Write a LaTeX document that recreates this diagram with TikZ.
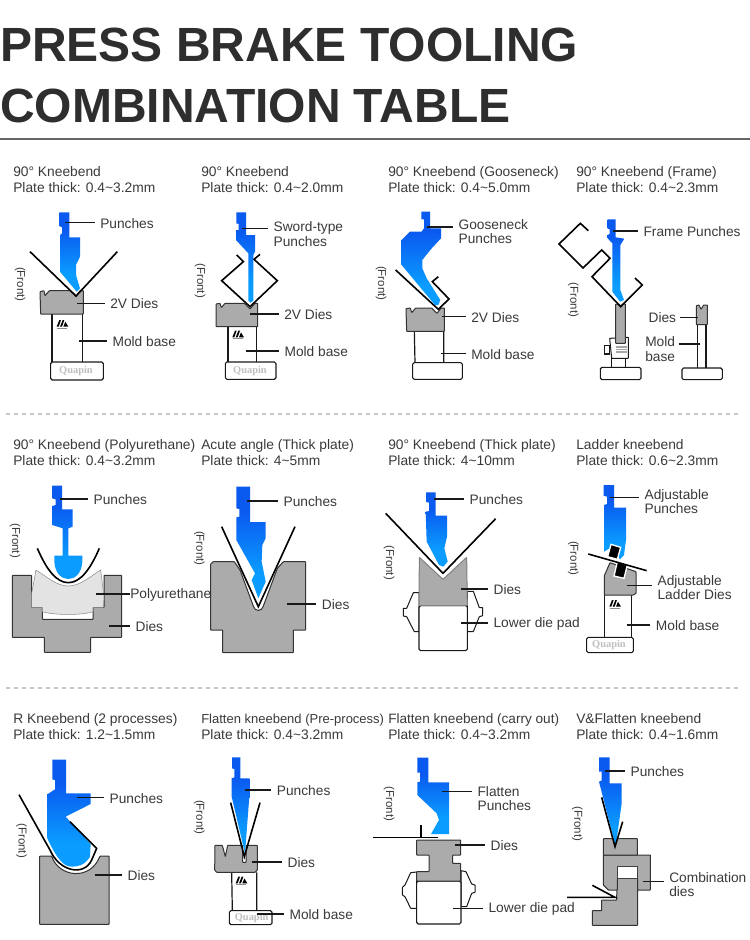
\documentclass[tikz,border=0pt]{standalone}
\usepackage{fontspec}
\setmainfont{Liberation Sans}
\newfontfamily\qfont{Liberation Serif}
\definecolor{ink}{HTML}{3A3A3A}
\definecolor{pd}{HTML}{0A5AF0}
\definecolor{pl}{HTML}{0A9CFF}
\definecolor{dg}{HTML}{ABABAB}
\pgfdeclareverticalshading{punchgrad}{100bp}{color(0bp)=(pl); color(36bp)=(pl); color(64bp)=(pd); color(100bp)=(pd)}
\tikzset{
  punch/.style={shading=punchgrad,draw=none},
  sheet/.style={draw=black,line width=1.2pt,line join=miter,fill=none},
  diebody/.style={fill=dg,draw=black!80,line width=.75pt,rounded corners=.4pt},
  outl/.style={draw=black!90,line width=.85pt,fill=white,rounded corners=1.2pt},
  clamp/.style={draw=black!90,line width=.75pt,fill=white,rounded corners=.3pt},
  wire/.style={draw=black!90,line width=.9pt},
  leader/.style={draw=black!90,line width=.8pt,shorten >=4pt},
  lbl/.style={inner sep=0pt,text=ink,font=\fontsize{10.3}{10.8}\selectfont,align=left,yshift=-.5pt},
  capt/.style={inner sep=0pt,text=ink,font=\fontsize{10.35}{12}\selectfont,anchor=base west},
  frontlbl/.style={inner sep=0pt,text=ink,font=\fontsize{8.6}{10}\selectfont,rotate=-90},
  qtext/.style={inner sep=0pt,text=black!25,font=\qfont\bfseries\fontsize{7.8}{9}\selectfont},
  panel/.style={x=.25pt,y=-.25pt},
  ttl/.style={inner sep=0pt,anchor=base west,text=black!82,font=\bfseries\fontsize{36}{40}\selectfont},
  dashline/.style={draw=black!22,line width=1.5pt,dash pattern=on 3pt off 3pt}
}
\newcommand\lbl[6]{\coordinate (#1-a) at (#2,#3);\node[lbl,anchor=west] (#1) at (#4,#5) {#6};\draw[leader] (#1-a) -- (#1.west |- #1-a);}
\newcommand\lblr[6]{\coordinate (#1-a) at (#2,#3);\node[lbl,anchor=west] (#1) at (#4,#5) {#6};\draw[leader,shorten >=3pt] (#1-a) -- (#1.east |- #1-a);}
\newcommand\capt[5]{\node[capt] (#1-1) at (#2,#3) {#4};\node[capt] (#1-2) at (#2,#3+16) {#5};}
\newcommand\qlogo[2]{\begin{scope}[shift={(#1,#2)}]
 \fill[black] (0,20)--(8,0)--(13,0)--(6,20)--cycle (10,20)--(18,0)--(23,0)--(16,20)--cycle (20,20)--(26,5)--(35,20)--cycle;
 \fill[black!45] (1,23) rectangle (32,25);
\end{scope}}
\newcommand\tld{\textasciitilde}
\begin{document}
\begin{tikzpicture}[x=.75pt,y=-.75pt]
\useasboundingbox (0,0) rectangle (750,940);
\fill[white] (0,0) rectangle (750,940);
% title
\node[ttl] (t1) at (0,61) {PRESS BRAKE TOOLING};
\node[ttl] (t2) at (0,122.5) {COMBINATION TABLE};
\draw[black!60,line width=1.2pt] (0,138.7) -- (750,138.7);
\draw[dashline] (6,413.7) -- (740,413.7);
\draw[dashline] (6,687.5) -- (740,687.5);
% captions
\capt{c1}{13}{176}{90° Kneebend}{Plate thick: 0.4\tld3.2mm}
\capt{c2}{201}{176}{90° Kneebend}{Plate thick: 0.4\tld2.0mm}
\capt{c3}{388}{176}{90° Kneebend (Gooseneck)}{Plate thick: 0.4\tld5.0mm}
\capt{c4}{576}{176}{90° Kneebend (Frame)}{Plate thick: 0.4\tld2.3mm}
\capt{c5}{13}{449}{90° Kneebend (Polyurethane)}{Plate thick: 0.4\tld3.2mm}
\capt{c6}{201}{449}{Acute angle (Thick plate)}{Plate thick: 4\tld5mm}
\capt{c7}{388}{449}{90° Kneebend (Thick plate)}{Plate thick: 4\tld10mm}
\capt{c8}{576}{449}{Ladder kneebend}{Plate thick: 0.6\tld2.3mm}
\capt{c9}{13}{723}{R Kneebend (2 processes)}{Plate thick: 1.2\tld1.5mm}
\capt{c10}{201}{723}{\fontsize{9.75}{12}\selectfont Flatten kneebend (Pre-process)}{Plate thick: 0.4\tld3.2mm}
\capt{c11}{388}{723}{\fontsize{10.2}{12}\selectfont Flatten kneebend (carry out)}{Plate thick: 0.4\tld3.2mm}
\capt{c12}{576}{723}{V\&Flatten kneebend}{Plate thick: 0.4\tld1.6mm}

% ===== PANEL 1
\begin{scope}[shift={(0,150)},panel]
% D1
\draw[wire] (156,492)--(156,636) (247,492)--(247,636);
\path[diebody] (120,425)--(132,422)--(135,437)--(148,422)--(212,422)--(228,440)--(240,422)--(250,422)--(250,492)--(122,492)--cycle;
\path[punch] (178,187)--(208,187)--(208,262)--(240,262)--(240,320)--(228,345)--(228,375)--(240,415)--(230,425)--(180,365)--(180,255)--(186,250)--(186,232)--(178,228)--cycle;
\draw[sheet] (90,305)--(228,438)--(352,305);
\path[outl] (152,636) rectangle (310,690);
\node[qtext] (q1) at (228,662) {Quapin};
\qlogo{170}{510}
\lbl{a1}{195}{218}{300}{218}{Punches}
\lbl{a2}{232}{460}{330}{460}{2V Dies}
\lbl{a3}{238}{573}{337}{573}{Mold base}
\node[frontlbl] (f1) at (60,403) {(Front)};
% D2
\draw[wire] (684,530)--(684,636) (770,530)--(770,636);
\path[diebody] (648,462)--(660,460)--(664,473)--(675,460)--(733,460)--(750,477)--(765,460)--(773,460)--(773,530)--(648,530)--cycle;
\path[punch] (709,187)--(738,187)--(738,255)--(765,255)--(765,305)--(760,315)--(760,452)--(752,458)--(745,452)--(745,310)--(708,270)--(708,240)--(716,240)--(716,222)--(709,220)--cycle;
\draw[sheet] (710,315)--(730,335)--(665,392)--(750,470)--(832,392)--(762,328)--(780,313);
\path[outl] (676,636) rectangle (828,688);
\node[qtext] (q2) at (750,662) {Quapin};
\qlogo{697}{542}
\lbl{a4}{727}{235}{820}{250}{Sword-type\\Punches}
\lbl{a5}{750}{492}{852}{492}{2V Dies}
\lbl{a6}{738}{603}{853}{603}{Mold base}
\node[frontlbl] (f2) at (600,392) {(Front)};
\end{scope}

% ===== PANEL 2
\begin{scope}[shift={(375,150)},panel]
% D3
\draw[wire] (118,544)--(120,638) (206,544)--(206,638);
\path[diebody] (93,476)--(106,474)--(110,488)--(122,474)--(170,474)--(186,490)--(198,474)--(208,474)--(208,544)--(95,544)--cycle;
\path[punch] (139,185)--(165,185)--(165,235)--(198,235)--(198,265)--(170,295)--(142,330)--(142,355)--(155,385)--(196,450)--(190,465)--(180,465)--(80,345)--(80,270)--(105,245)--(140,245)--(147,235)--(147,208)--(139,208)--cycle;
\draw[sheet] (62,360)--(190,478)--(222,447)--(172,395)--(190,380);
\path[outl] (113,638) rectangle (262,688);
\lbl{a7}{155}{231}{250}{243}{Gooseneck\\Punches}
\lbl{a8}{200}{500}{288}{500}{2V Dies}
\lbl{a9}{198}{611}{288}{611}{Mold base}
\node[frontlbl] (f3) at (18,400) {(Front)};
% D4
\path[clamp] (704,565)--(760,562)--(760,625)--(710,625)--cycle;
\draw[wire] (688,587) rectangle (704,612);
\draw[black!35,line width=.4pt] (724,588)--(757,588) (724,593)--(757,593) (724,598)--(757,598) (724,603)--(757,603) (724,608)--(757,608);
\path[diebody] (722,462)--(733,462)--(737,472)--(742,462)--(751,462)--(751,580)--(722,580)--cycle;
\draw[wire] (710,625)--(710,652) (752,625)--(752,652);
\path[outl] (676,652) rectangle (798,689);
\path[punch] (698,208)--(722,208)--(722,262)--(748,266)--(736,285)--(736,420)--(747,450)--(735,455)--(712,425)--(712,280)--(698,265)--(698,255)--(704,252)--(704,238)--(698,236)--cycle;
\draw[sheet] (640,242)--(616,220)--(552,282)--(624,354)--(680,300)--(705,325)--(651,380)--(737,470)--(802,405)--(780,384);
\draw[wire] (968,524)--(968,654) (993,524)--(993,654);
\path[diebody] (964,467)--(972,465)--(978,478)--(986,465)--(997,465)--(997,524)--(964,524)--cycle;
\path[outl] (921,654) rectangle (1042,689);
\lbl{a10}{715}{243}{805}{243}{Frame Punches}
\lblr{a11}{968}{502}{820}{502}{Dies}
\lblr{a12}{976}{582}{810}{595}{Mold\\base}
\node[frontlbl] (f4) at (595,450) {(Front)};
\end{scope}

% ===== PANEL 3
\begin{scope}[shift={(0,430)},panel]
% D5
\path[diebody] (37,436)--(95,436)--(95,532)--(127,532)--(127,568)--(279,568)--(279,532)--(312,532)--(312,436)--(365,436)--(365,622)--(272,622)--(272,667)--(133,667)--(133,622)--(37,622)--cycle;
\path[fill=black!11,draw=black!45,line width=.4pt] (108,420) .. controls (140,440) and (170,468) .. (205,468) .. controls (240,468) and (270,440) .. (302,420)--(312,500)--(310,532)--(279,532)--(279,545) .. controls (250,556) and (160,556) .. (127,545)--(127,532)--(95,532)--(95,490)--cycle;
\path[punch] (157,167)--(186,167)--(186,238)--(218,238)--(218,290)--(205,295)--(205,377)--(247,377)--(247,395) .. controls (245,430) and (225,447) .. (205,447) .. controls (185,447) and (165,430) .. (163,395)--(163,377)--(188,377)--(188,295)--(157,285)--(157,228)--(167,225)--(167,208)--(157,205)--cycle;
\draw[sheet] (112,355) .. controls (140,420) and (170,458) .. (205,458) .. controls (240,458) and (270,420) .. (298,355);
\coordinate (p1-a) at (288,492);
\node[lbl,anchor=west] (p1) at (390,492) {Polyurethane};
\draw[leader,shorten >=0pt] (p1-a) -- (p1.west |- p1-a);
\lbl{a13}{180}{207}{280}{207}{Punches}
\lbl{a14}{328}{588}{406}{588}{Dies}
\node[frontlbl] (f5) at (45,332) {(Front)};
% D6
\path[diebody] (640,395)--(703,395)--(720,420)--(760,528) .. controls (765,545) and (785,545) .. (790,528)--(832,415)--(850,395)--(917,395)--(917,600)--(880,600)--(880,668)--(668,668)--(668,600)--(632,600)--(632,402)--cycle;
\path[punch] (709,170)--(750,170)--(750,276)--(797,276)--(797,325)--(787,345)--(785,395)--(797,455)--(775,505)--(755,450)--(765,430)--(709,330)--(709,262)--(718,260)--(718,237)--(709,235)--cycle;
\draw[sheet] (665,290)--(775,530)--(885,290);
\lbl{a15}{740}{213}{850}{213}{Punches}
\lbl{a16}{860}{522}{965}{522}{Dies}
\node[frontlbl] (f6) at (598,355) {(Front)};
\end{scope}

% ===== PANEL 4
\begin{scope}[shift={(375,430)},panel]
% D7
\path[clamp] (132,488)--(115,488)--(95,535)--(85,535)--(85,558)--(95,560)--(118,605)--(132,605)--cycle;
\path[clamp] (277,484)--(295,484)--(313,533)--(323,533)--(323,557)--(313,560)--(295,605)--(277,605)--cycle;
\path[outl] (132,527)--(132,662)--(277,662)--(277,527)--cycle;
\path[diebody,draw=black!50] (133,382)--(204,448)--(275,382)--(277,527)--(132,527)--cycle;
\path[punch] (153,187)--(182,187)--(182,257)--(216,257)--(216,320)--(208,355)--(218,395)--(205,410)--(192,405)--(155,335)--(152,245)--(162,243)--(162,218)--(153,216)--cycle;
\draw[sheet] (32,250)--(204,430)--(362,266);
\lbl{a17}{178}{207}{283}{207}{Punches}
\lbl{a18}{258}{477}{355}{477}{Dies}
\lbl{a19}{258}{579}{355}{579}{Lower die pad}
\node[frontlbl] (f7) at (42,398) {(Front)};
% D8
\draw[wire] (688,495)--(688,622) (770,495)--(770,622);
\path[punch] (686,165)--(717,165)--(717,233)--(753,233)--(753,330)--(747,375)--(735,388)--(712,350)--(687,365)--(687,225)--(696,222)--(696,200)--(686,197)--cycle;
\path[diebody] (705,398)--(783,425)--(783,490)--(775,495)--(688,495)--(688,437)--cycle;
\path[fill=black,draw=white,line width=1pt] (708,343)--(737,352)--(727,388)--(698,380)--cycle;
\path[fill=black,draw=white,line width=1pt] (727,395)--(757,405)--(747,445)--(717,438)--cycle;
\draw[sheet] (640,372)--(815,422);
\path[outl] (635,622) rectangle (775,668);
\node[qtext] (q3) at (702,645) {Quapin};
\qlogo{703}{510}
\lbl{a20}{705}{203}{808}{213}{Adjustable\\Punches}
\lbl{a21}{755}{467}{847}{471}{Adjustable\\Ladder Dies}
\lbl{a22}{755}{585}{842}{585}{Mold base}
\node[frontlbl] (f8) at (595,385) {(Front)};
\end{scope}

% ===== PANEL 5
\begin{scope}[shift={(0,700)},panel]
% D9
\path[diebody] (119,468)--(155,468) .. controls (175,530) and (270,545) .. (300,468)--(327,468)--(327,673)--(119,673)--cycle;
\path[punch] (157,179)--(198,179)--(198,280)--(272,280)--(272,312)--(197,350)--(272,432)--(270,470) .. controls (255,495) and (235,500) .. (215,500) .. controls (190,500) and (170,475) .. (142,415)--(142,283)--(165,268)--(165,240)--(157,238)--cycle;
\draw[sheet] (57,284)--(150,450) .. controls (178,515) and (252,530) .. (275,480)--(290,445)--(210,365);
\lbl{a23}{232}{293}{328}{293}{Punches}
\lbl{a24}{285}{525}{382}{525}{Dies}
\node[frontlbl] (f9) at (65,422) {(Front)};
% D10
\draw[wire] (695,517)--(697,632) (770,517)--(770,632);
\path[diebody] (645,436)--(667,436)--(676,470)--(683,436)--(728,436)--(728,487)--(738,487)--(738,436)--(772,436)--(772,510)--(765,517)--(650,517)--(644,510)--cycle;
\path[punch] (696,172)--(721,172)--(721,235)--(748,235)--(748,290)--(735,460)--(695,290)--(695,235)--(703,232)--(703,207)--(696,205)--cycle;
\draw[sheet] (692,308)--(733,470)--(780,308);
\path[outl] (688,632) rectangle (816,674);
\node[qtext] (q4) at (755,654) {Quapin};
\qlogo{707}{530}
\lbl{a25}{735}{270}{830}{270}{Punches}
\lbl{a26}{755}{486}{862}{486}{Dies}
\lbl{a27}{770}{642}{868}{642}{Mold base}
\node[frontlbl] (f10) at (598,352) {(Front)};
\end{scope}

% ===== PANEL 6
\begin{scope}[shift={(375,700)},panel]
% D11
\path[clamp] (125,516)--(107,518)--(90,555)--(82,562)--(82,585)--(90,590)--(107,625)--(125,625)--cycle;
\path[clamp] (258,512)--(273,515)--(290,552)--(300,555)--(300,577)--(290,580)--(275,620)--(258,620)--cycle;
\path[outl] (125,543) rectangle (258,672);
\path[diebody] (125,420)--(257,420)--(257,465)--(233,465)--(233,490)--(257,490)--(257,543)--(125,543)--(125,515)--(162,515)--(162,465)--(125,465)--cycle;
\path[punch] (127,173)--(160,173)--(160,247)--(222,247)--(222,402)--(168,402)--(192,360)--(185,340)--(127,285)--(127,247)--(135,245)--(135,218)--(127,218)--cycle;
\draw[sheet] (-5,412)--(188,412) (138,375)--(138,412);
\lbl{a28}{200}{275}{307}{294}{Flatten\\Punches}
\lbl{a29}{240}{435}{346}{435}{Dies}
\lbl{a30}{235}{625}{340}{625}{Lower die pad}
\node[frontlbl] (f11) at (42,312) {(Front)};
% D12
\path[diebody] (726,535)--(788,535)--(788,676)--(652,676)--(652,632)--(680,632)--(680,600)--(725,600)--cycle;
\path[diebody] (685,465)--(826,465)--(826,570)--(788,570)--(788,535)--(727,535)--(727,570)--(700,570)--(685,555)--cycle;
\path[fill=white,draw=black!75,line width=.7pt] (727,498) rectangle (788,535);
\path[diebody] (685,416)--(787,416)--(787,465)--(685,465)--cycle;
\path[punch] (672,172)--(704,172)--(704,250)--(740,250)--(740,310)--(722,440)--(672,245)--(680,242)--(680,215)--(672,215)--cycle;
\draw[sheet] (680,292)--(720,440)--(743,365);
\draw[sheet] (576,592)--(720,592)--(652,556);
\lbl{a31}{690}{213}{766}{213}{Punches}
\lbl{a32}{805}{545}{882}{552}{Combination\\dies}
\node[frontlbl] (f12) at (607,372) {(Front)};
\end{scope}
\end{tikzpicture}
\end{document}
